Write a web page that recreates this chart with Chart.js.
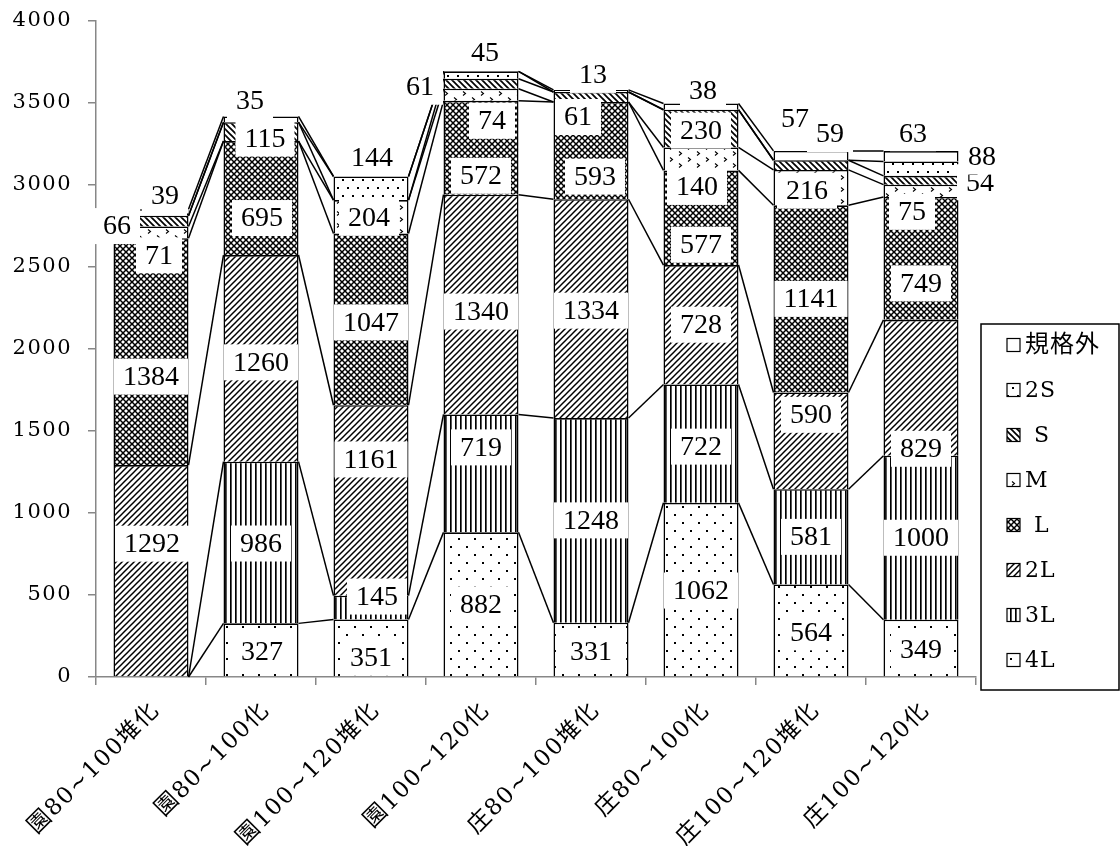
<!DOCTYPE html>
<html>
<head>
<meta charset="utf-8">
<script src="https://cdn.jsdelivr.net/npm/chart.js@4.4.1/dist/chart.umd.min.js"></script>
<style>
html,body{margin:0;padding:0;background:#fff;}
canvas{display:block;}
</style>
</head>
<body>
<canvas id="c" width="1120" height="847"></canvas>
<script>
// ---------------- data ----------------
const categories = ['園80~100堆化','園80~100化','園100~120堆化','園100~120化','庄80~100堆化','庄80~100化','庄100~120堆化','庄100~120化'];
const seriesNames = ['4L','3L','2L','L','M','S','2S','規格外'];
const s4L  = [0, 327, 351, 882, 331, 1062, 564, 349];
const s3L  = [0, 986, 145, 719, 1248, 722, 581, 1000];
const s2L  = [1292, 1260, 1161, 1340, 1334, 728, 590, 829];
const sL   = [1384, 695, 1047, 572, 593, 577, 1141, 749];
const sM   = [71, 0, 204, 74, 0, 140, 216, 75];
const sS   = [66, 115, 0, 61, 61, 230, 59, 54];
const s2S  = [0, 0, 144, 45, 0, 0, 0, 88];
const sOut = [39, 35, 0, 0, 13, 38, 57, 63];
const seriesValues = [s4L, s3L, s2L, sL, sM, sS, s2S, sOut];
const yMin = 0, yMax = 4000, yStep = 500;

// ---------------- styling ----------------
// label nudges in pixels (dx, dy) relative to segment centre, per series / category
const labelNudge = {
  '4L':  [[0,0],[1,2],[0,10],[0,0],[0,2],[0,1],[0,2],[0,2]],
  '3L':  [[0,0],[0,1],[6,-11],[0,-26],[0,0],[0,3],[0,0],[0,0]],
  '2L':  [[1,-27],[0,4],[0,-41],[0,7],[0,2],[0,0],[0,-26],[0,61]],
  'L':   [[0,25],[1,20],[0,3],[0,28],[4,26],[0,27],[0,0],[0,25]],
  'M':   [[8,23],[0,0],[-2,1],[11,26],[0,0],[-4,28],[-4,3],[-9,21]],
  'S':   [[-34,5],[4,7],[0,0],[-61,3],[-13,20],[0,2],[19,-31],[59,2]],
  '2S':  [[0,0],[0,0],[1,-31],[4,-22],[0,0],[0,0],[0,0],[61,-12]],
  '規格外':[[14,-17],[-11,-19],[0,0],[0,0],[2,-16],[2,-16],[-16,-37],[-8,-23]]
};
const AXIS_GRAY = '#878787';
const TICK_FONT = "'DejaVu Serif', 'Noto Sans CJK JP', serif";
const LABEL_FONT = "28px 'Liberation Serif', 'Noto Sans CJK JP', serif";

const canvas = document.getElementById('c');
const ctx0 = canvas.getContext('2d');

function pat(w, h, fn) {
  const c = document.createElement('canvas');
  c.width = w; c.height = h;
  const g = c.getContext('2d');
  g.fillStyle = '#fff'; g.fillRect(0, 0, w, h);
  g.fillStyle = '#000'; g.strokeStyle = '#000';
  fn(g, w, h);
  return ctx0.createPattern(c, 'repeat');
}
function seg(g, x1, y1, x2, y2) { g.beginPath(); g.moveTo(x1, y1); g.lineTo(x2, y2); g.stroke(); }
function slash(g, n) { for (let k = -1; k <= 1; k++) seg(g, -1 + k*n, n + 1, n + 1 + k*n, -1); }
function backslash(g, n) { for (let k = -1; k <= 1; k++) seg(g, -1 + k*n, -1, n + 1 + k*n, n + 1); }

const fills = {
  '4L': pat(16, 16, g => { g.fillRect(2, 2, 2, 2); g.fillRect(10, 10, 2, 2); }),
  '3L': pat(5, 4, g => { g.fillRect(0, 0, 1, 4); g.fillStyle = '#555'; g.fillRect(1, 0, 1, 4); }),
  '2L': pat(6, 6, g => { g.lineWidth = 1.5; slash(g, 6); }),
  'L':  pat(6, 6, g => { g.lineWidth = 1.5; slash(g, 6); backslash(g, 6); }),
  'M':  pat(18, 12, g => { g.lineWidth = 1.1;
          g.beginPath(); g.moveTo(4, 1.5); g.lineTo(6.5, 3.5); g.lineTo(4, 5.5); g.stroke();
          g.beginPath(); g.moveTo(13, 7.5); g.lineTo(15.5, 9.5); g.lineTo(13, 11.5); g.stroke(); }),
  'S':  pat(6, 6, g => { g.lineWidth = 1.7; backslash(g, 6); }),
  '2S': pat(10, 16, g => { g.fillRect(2, 3, 2, 2); g.fillRect(7, 11, 2, 2); }),
  '規格外': '#ffffff'
};

const datasets = seriesNames.map((name, i) => ({
  label: name,
  data: seriesValues[i],
  backgroundColor: fills[name],
  borderColor: '#000',
  borderWidth: 1.6,
  borderSkipped: 'start',
  barPercentage: 0.682,
  categoryPercentage: 1.0
}));

// letter spacing for axis text (drawn before datasets)
const spacingPlugin = {
  id: 'spacing',
  beforeDraw(chart) { chart.ctx.letterSpacing = '1.5px'; },
  beforeDatasetsDraw(chart) { chart.ctx.letterSpacing = '0px'; }
};

// series lines connecting segment tops between adjacent bars
const seriesLinesPlugin = {
  id: 'seriesLines',
  afterDatasetsDraw(chart) {
    const ctx = chart.ctx;
    ctx.save();
    ctx.strokeStyle = '#000';
    ctx.lineWidth = 1.5;
    chart.data.datasets.forEach((ds, i) => {
      const meta = chart.getDatasetMeta(i);
      for (let j = 0; j < meta.data.length - 1; j++) {
        const a = meta.data[j].getProps(['x', 'y', 'width'], true);
        const b = meta.data[j + 1].getProps(['x', 'y', 'width'], true);
        ctx.beginPath();
        ctx.moveTo(a.x + a.width / 2, a.y);
        ctx.lineTo(b.x - b.width / 2, b.y);
        ctx.stroke();
      }
    });
    ctx.restore();
  }
};

// data labels in white boxes
const labelPlugin = {
  id: 'boxLabels',
  afterDatasetsDraw(chart) {
    const ctx = chart.ctx;
    ctx.save();
    ctx.letterSpacing = '0px';
    ctx.font = LABEL_FONT;
    ctx.textAlign = 'center';
    ctx.textBaseline = 'middle';
    chart.data.datasets.forEach((ds, i) => {
      const meta = chart.getDatasetMeta(i);
      meta.data.forEach((el, j) => {
        const v = ds.data[j];
        if (!v) return;
        const p = el.getProps(['x', 'y', 'base'], true);
        const nudge = (labelNudge[ds.label] || [])[j] || [0, 0];
        const cx = p.x + nudge[0];
        const cy = (p.y + p.base) / 2 + nudge[1];
        const txt = String(v);
        const w = ctx.measureText(txt).width + 18;
        const h = 36;
        ctx.fillStyle = '#fff';
        ctx.fillRect(cx - w / 2, cy - h / 2, w, h);
        ctx.fillStyle = '#000';
        ctx.fillText(txt, cx, cy + 1);
      });
    });
    ctx.restore();
  }
};

// legend box on the right
const legendPlugin = {
  id: 'boxLegend',
  afterDraw(chart) {
    const ctx = chart.ctx;
    const L = 981, T = 324, W = 138, H = 366;
    ctx.save();
    ctx.strokeStyle = '#000';
    ctx.lineWidth = 1.5;
    ctx.strokeRect(L, T, W, H);
    const order = seriesNames.slice().reverse();
    ctx.textAlign = 'left';
    ctx.textBaseline = 'middle';
    ctx.letterSpacing = '1px';
    order.forEach((name, k) => {
      const y = 345 + k * 45;
      ctx.fillStyle = fills[name];
      ctx.fillRect(1007, y - 6.5, 13, 13);
      ctx.lineWidth = 1.2;
      ctx.strokeStyle = '#000';
      ctx.strokeRect(1007, y - 6.5, 13, 13);
      const cjk = /[^\x00-\x7F]/.test(name);
      ctx.font = (cjk ? '24px ' : '22px ') + TICK_FONT;
      ctx.fillStyle = '#000';
      const indent = (name === 'S' || name === 'L') ? 9 : 0;
      ctx.fillText(name, 1025 + indent, y + 1);
    });
    ctx.restore();
  }
};

new Chart(canvas, {
  type: 'bar',
  data: { labels: categories, datasets },
  options: {
    responsive: false,
    animation: false,
    devicePixelRatio: 1,
    layout: { padding: { top: 21, right: 144, left: 0, bottom: 0 } },
    plugins: { legend: { display: false }, tooltip: { enabled: false } },
    scales: {
      x: {
        stacked: true,
        grid: { display: true, drawOnChartArea: false, drawTicks: true, tickLength: 8, color: AXIS_GRAY, lineWidth: 1.5, offset: true },
        border: { display: true, color: AXIS_GRAY, width: 1.5 },
        ticks: { color: '#000', font: { family: TICK_FONT, size: 23 }, minRotation: 45, maxRotation: 45, padding: 12, labelOffset: 5, autoSkip: false },
        afterFit(s) { s.height = 170; s.paddingLeft = 0; s.paddingRight = 0; }
      },
      y: {
        stacked: true,
        min: yMin, max: yMax,
        grid: { display: true, drawOnChartArea: false, drawTicks: true, tickLength: 8, color: AXIS_GRAY, lineWidth: 1.5 },
        border: { display: true, color: AXIS_GRAY, width: 1.5 },
        ticks: { stepSize: yStep, color: '#000', font: { family: TICK_FONT, size: 21 }, padding: 16, callback: v => String(v) },
        afterFit(s) { s.width = 96; s.paddingTop = 0; s.paddingBottom = 0; }
      }
    }
  },
  plugins: [spacingPlugin, seriesLinesPlugin, labelPlugin, legendPlugin]
});
</script>
</body>
</html>
